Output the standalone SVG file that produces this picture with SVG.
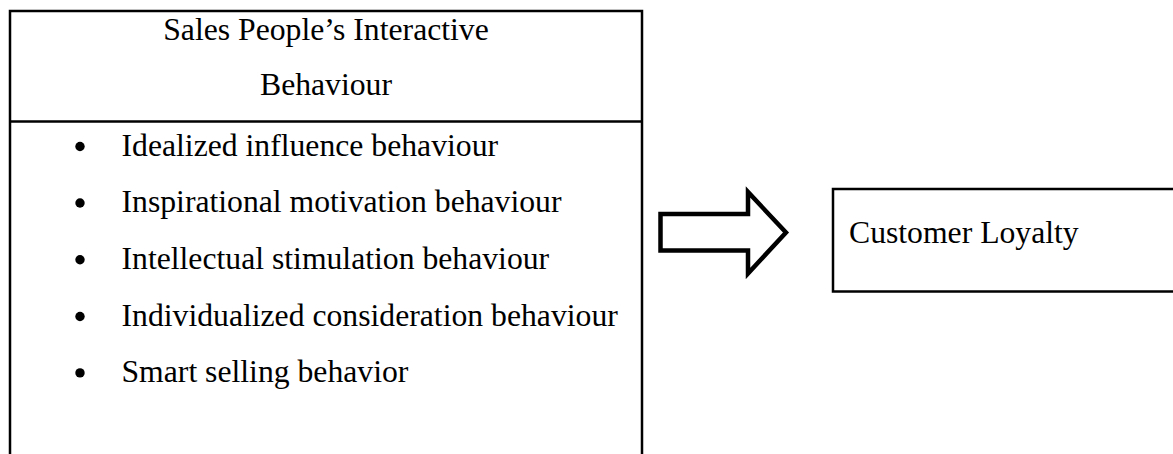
<svg xmlns="http://www.w3.org/2000/svg" width="1173" height="454" viewBox="0 0 1173 454">
  <style>
    .box { fill: #ffffff; stroke: #000000; stroke-width: 2.5; }
    .t { font-family: "Liberation Serif", "Times New Roman", serif; font-size: 31.7px; fill: #000000; }
    .mid { text-anchor: middle; }
    .bul { fill: #000000; }
    .arrow { fill: #ffffff; stroke: #000000; stroke-width: 4.5; stroke-linejoin: miter; stroke-miterlimit: 10; }
  </style>
  <rect x="0" y="0" width="1173" height="454" fill="#ffffff"/>

  <g id="node-sales-behaviour">
    <rect class="box" x="10" y="11" width="632" height="470"/>
    <line x1="10" y1="121.5" x2="642" y2="121.5" stroke="#000000" stroke-width="2.5"/>
    <text class="t mid" x="326" y="40">Sales People’s Interactive</text>
    <text class="t mid" x="326" y="95">Behaviour</text>
    <circle class="bul" cx="80" cy="146.5" r="4.7"/>
    <text class="t" x="121.5" y="155.5">Idealized influence behaviour</text>
    <circle class="bul" cx="80" cy="203" r="4.7"/>
    <text class="t" x="121.5" y="212">Inspirational motivation behaviour</text>
    <circle class="bul" cx="80" cy="259.7" r="4.7"/>
    <text class="t" x="121.5" y="268.7">Intellectual stimulation behaviour</text>
    <circle class="bul" cx="80" cy="316.5" r="4.7"/>
    <text class="t" x="121.5" y="325.5">Individualized consideration behaviour</text>
    <circle class="bul" cx="80" cy="372.9" r="4.7"/>
    <text class="t" x="121.5" y="381.9">Smart selling behavior</text>
  </g>

  <g id="connectors">
    <path class="arrow" d="M660.5,214 L748,214 L748,192 L786,232.5 L748,273.5 L748,250.5 L660.5,250.5 Z"/>
  </g>

  <g id="node-customer-loyalty">
    <rect class="box" x="833" y="189" width="360" height="102.5"/>
    <text class="t" x="849" y="242.5">Customer Loyalty</text>
  </g>
</svg>
